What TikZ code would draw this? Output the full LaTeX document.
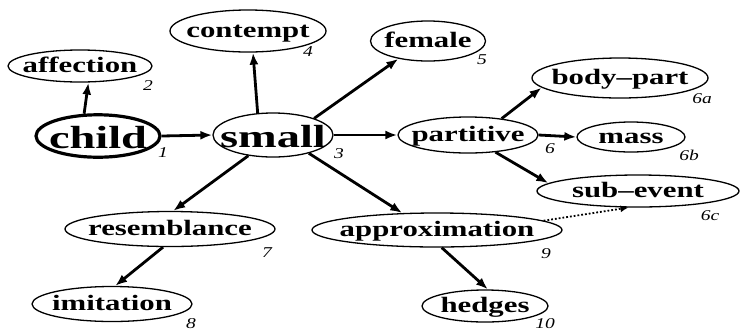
\documentclass[tikz,border=0pt]{standalone}
\usepackage{fontspec}
\setmainfont{Liberation Serif}
\usetikzlibrary{shapes.geometric,arrows.meta}

% stretched text, centred in a box of no width
\newcommand{\wtxt}[2][1.4]{\makebox[0pt]{\scalebox{#1}[1]{#2}}}

\begin{document}
\begin{tikzpicture}[x=1pt,y=-1pt,
    term/.style={ellipse,draw,line width=1.3pt,inner sep=0pt,
      text height=15pt,text depth=2pt,font=\fontsize{22}{24}\selectfont\bfseries},
    big/.style={text height=27pt,text depth=3pt,font=\fontsize{32}{34}\selectfont\bfseries},
    num/.style={inner sep=0pt,font=\fontsize{15}{16}\selectfont\itshape},
    link/.style={-{Latex[length=12pt,width=9pt]},line width=2.8pt}]
    \useasboundingbox (0,0) rectangle (741,333);
    % senses
    \node[term,big,line width=3.2pt,minimum width=124,minimum height=32] (child) at (98,136) {\wtxt[1.45]{child}};
    \node[term,big,minimum width=120,minimum height=44] (small) at (273,135) {\wtxt[1.45]{small}};
    \node[term,minimum width=144,minimum height=32] (affection) at (80,66) {\wtxt{affection}};
    \node[term,minimum width=156,minimum height=42] (contempt) at (248,31) {\wtxt{contempt}};
    \node[term,minimum width=115,minimum height=40] (female) at (428,41) {\wtxt{female}};
    \node[term,minimum width=140,minimum height=36] (partitive) at (468,135) {\wtxt{partitive}};
    \node[term,minimum width=176,minimum height=40] (bodypart) at (620,78) {\wtxt{body--part}};
    \node[term,minimum width=108,minimum height=30] (mass) at (631,137) {\wtxt{mass}};
    \node[term,minimum width=202,minimum height=32] (subevent) at (638,191) {\wtxt{sub--event}};
    \node[term,minimum width=210,minimum height=35] (resemblance) at (170,229) {\wtxt{resemblance}};
    \node[term,minimum width=250,minimum height=34] (approximation) at (437,230) {\wtxt{approximation}};
    \node[term,minimum width=160,minimum height=35] (imitation) at (112,304) {\wtxt{imitation}};
    \node[term,minimum width=126,minimum height=32] (hedges) at (485,306) {\wtxt{hedges}};
    % numbers
    \node[num] (n1) at (163,153) {\wtxt[1.3]{1}};
    \node[num] (n2) at (148,86) {\wtxt[1.3]{2}};
    \node[num] (n3) at (339,154) {\wtxt[1.3]{3}};
    \node[num] (n4) at (308,52) {\wtxt[1.3]{4}};
    \node[num] (n5) at (482,60) {\wtxt[1.3]{5}};
    \node[num] (n6) at (550,149) {\wtxt[1.3]{6}};
    \node[num] (n6a) at (702,99) {\wtxt[1.3]{6a}};
    \node[num] (n6b) at (689,155) {\wtxt[1.3]{6b}};
    \node[num] (n6c) at (710,216) {\wtxt[1.3]{6c}};
    \node[num] (n7) at (267,253) {\wtxt[1.3]{7}};
    \node[num] (n8) at (191,324) {\wtxt[1.3]{8}};
    \node[num] (n9) at (546,254) {\wtxt[1.3]{9}};
    \node[num] (n10) at (545,324) {\wtxt[1.3]{10}};
    % links
    \draw[link] (child.122) -- (affection.-63);
    \draw[link] (child.east) -- (small.west);
    \draw[link] (small.125) -- (contempt.-77);
    \draw[link] (small.22) -- (female.-149);
    \draw[link] (small.east) -- (partitive.west);
    \draw[link] (small.-140) -- (resemblance.80);
    \draw[link] (small.-27) -- (approximation.154);
    \draw[link] (partitive.26) -- (bodypart.-173);
    \draw[link] (partitive.east) -- (mass.west);
    \draw[link] (partitive.-32) -- (subevent.175);
    \draw[link] (resemblance.-111) -- (imitation.80);
    \draw[link] (approximation.-75) -- (hedges.80);
    \draw[-{Latex[length=8pt,width=7pt]},dotted,line width=1.8pt] (approximation.5) -- (subevent.-120);
\end{tikzpicture}
\end{document}
